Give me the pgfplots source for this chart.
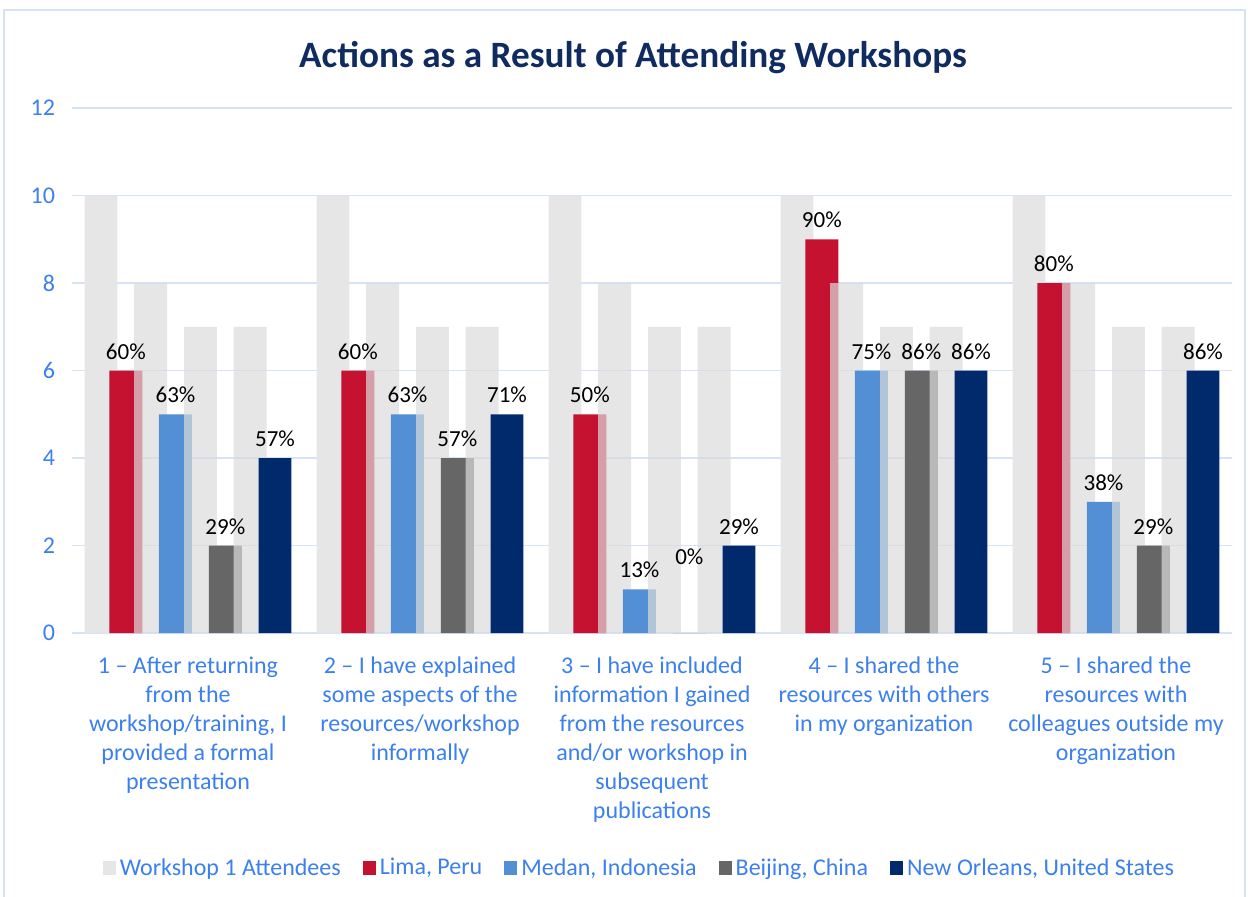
\documentclass[border=0pt]{standalone}
\usepackage{fontspec}
\setmainfont{Carlito}
\usepackage{pgfplots}
\pgfplotsset{compat=1.18}
\definecolor{cgray}{HTML}{E6E6E6}
\definecolor{cgrayT}{HTML}{DBDBDB}
\definecolor{cred}{HTML}{C41230}
\definecolor{cblue}{HTML}{528FD4}
\definecolor{cdgray}{HTML}{666666}
\definecolor{cnavy}{HTML}{002A6C}
\definecolor{ctext}{HTML}{3B80EE}
\definecolor{cgrid}{HTML}{D5E3F7}
\definecolor{ctitle}{HTML}{0F2B5F}
\begin{document}
\begin{tikzpicture}
\useasboundingbox (0,0) rectangle (624pt,448pt);
\draw[cgrid, line width=1pt] (2pt,-2pt) -- (2pt,443pt) -- (622.5pt,443pt) -- (622.5pt,-2pt);
\node[font=\fontsize{18.6}{22}\selectfont\bfseries, text=ctitle] at (316.5pt,419pt) {Actions as a Result of Attending Workshops};
\begin{axis}[
  at={(36pt,131.5pt)}, anchor=south west, scale only axis,
  width=580pt, height=262.5pt,
  xmin=-0.5, xmax=4.5, ymin=0, ymax=12, ytick={0,2,...,12},
  axis line style={draw=none}, tick style={draw=none},
  ymajorgrids, grid style={cgrid, line width=0.8pt},
  xtick={0,...,4},
  xticklabels={
    {1 – After returning\\from the\\workshop/training, I\\provided a formal\\presentation},
    {2 – I have explained\\some aspects of the\\resources/workshop\\informally},
    {3 – I have included\\information I gained\\from the resources\\and/or workshop in\\subsequent\\publications},
    {4 – I shared the\\resources with others\\in my organization},
    {5 – I shared the\\resources with\\colleagues outside my\\organization}},
  xticklabel style={align=center, text=ctext, font=\fontsize{12}{14.5}\selectfont, anchor=north, yshift=-4pt},
  yticklabel style={text=ctext, font=\fontsize{12}{14}\selectfont, xshift=-5pt},
  /pgf/number format/assume math mode=true,
  ybar, bar width=0.142,
  legend image code/.code={\fill[#1] (0pt,-3.5pt) rectangle (6.5pt,3.5pt);},
  legend style={at={(0.49,-0.448)}, anchor=center, draw=none, fill=none,
    font=\fontsize{12}{14}\selectfont, text=ctext,
    /tikz/every even column/.append style={column sep=9pt}},
  legend columns=-1,
  point meta=explicit symbolic,
  every node near coord/.append style={font=\fontsize{11.5}{13}\selectfont, text=black, yshift=2pt},
]
\addplot[fill=cgray, draw=none, bar shift=-0.375] coordinates {(0,10) (1,10) (2,10) (3,10) (4,10)};
\addlegendentry{Workshop 1 Attendees}
\addplot[fill=cred, draw=none, bar shift=-0.268, nodes near coords] coordinates {(0,6) [60\%] (1,6) [60\%] (2,5) [50\%] (3,9) [90\%] (4,8) [80\%]};
\addlegendentry{Lima, Peru}
\addplot[forget plot, fill=cgrayT, fill opacity=0.7, draw=none, bar shift=-0.161] coordinates {(0,8) (1,8) (2,8) (3,8) (4,8)};
\addplot[fill=cblue, draw=none, bar shift=-0.054, nodes near coords] coordinates {(0,5) [63\%] (1,5) [63\%] (2,1) [13\%] (3,6) [75\%] (4,3) [38\%]};
\addlegendentry{Medan, Indonesia}
\addplot[forget plot, fill=cgrayT, fill opacity=0.7, draw=none, bar shift=0.054] coordinates {(0,7) (1,7) (2,7) (3,7) (4,7)};
\addplot[fill=cdgray, draw=none, bar shift=0.161, nodes near coords] coordinates {(0,2) [29\%] (1,4) [57\%] (2,0) [] (3,6) [86\%] (4,2) [29\%]};
\addlegendentry{Beijing, China}
\addplot[forget plot, fill=cgrayT, fill opacity=0.7, draw=none, bar shift=0.268] coordinates {(0,7) (1,7) (2,7) (3,7) (4,7)};
\addplot[fill=cnavy, draw=none, bar shift=0.375, nodes near coords] coordinates {(0,4) [57\%] (1,5) [71\%] (2,2) [29\%] (3,6) [86\%] (4,6) [86\%]};
\addlegendentry{New Orleans, United States}
\addplot[forget plot, fill=none, draw=none, bar shift=0.161, nodes near coords] coordinates {(2,1.3) [0\%]};
\end{axis}
\end{tikzpicture}
\end{document}
